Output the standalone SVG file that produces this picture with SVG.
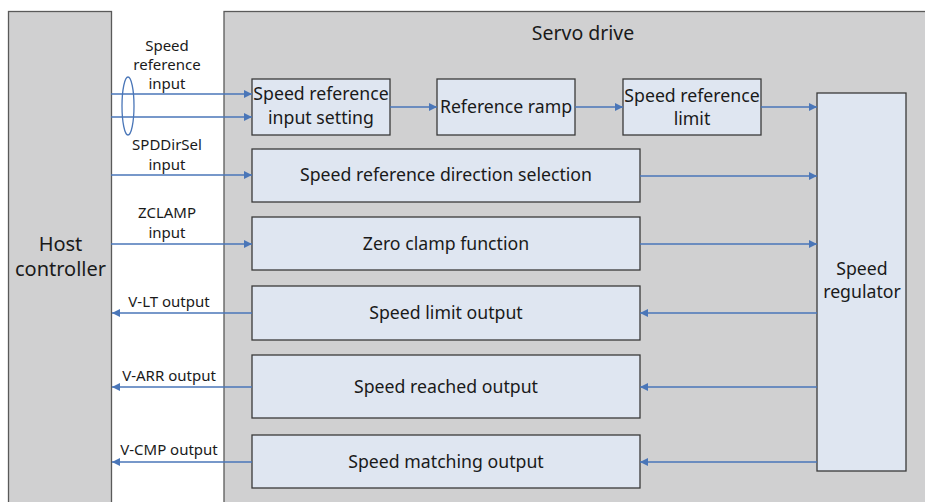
<svg xmlns="http://www.w3.org/2000/svg" width="925" height="502" viewBox="0 0 925 502">
<defs>
<style>
.panel{fill:#d0d0d1;stroke:#5a5a5a;stroke-width:1.3}
.box{fill:#dfe6f1;stroke:#3a3a3a;stroke-width:1.3}
.t{font-family:"Noto Sans","Open Sans","DejaVu Sans",sans-serif;fill:#1a1a1a;text-anchor:middle}
.bt{font-size:17.7px}
.lt{font-size:15px}
.big{font-size:20px}
.ln{stroke:#4a76b8;stroke-width:1.3;fill:none}
</style>
<marker id="ah" viewBox="0 0 10 10" refX="10" refY="5" markerWidth="10" markerHeight="8" markerUnits="userSpaceOnUse" orient="auto">
<path d="M0,0 L10,5 L0,10 z" fill="#4a76b8"/>
</marker>
</defs>
<rect width="925" height="502" fill="#ffffff"/>
<g id="host">
<rect class="panel" x="8.5" y="11.5" width="103" height="500"/>
<text class="t big" x="60.5" y="251">Host</text>
<text class="t big" x="60.5" y="276">controller</text>
</g>
<g id="servo">
<rect class="panel" x="224" y="11.5" width="710" height="500"/>
<text class="t" style="font-size:19.5px" x="583" y="40">Servo drive</text>
</g>
<g id="n_input_setting">
<rect class="box" x="252" y="79" width="138" height="56"/>
<text class="t bt" x="321" y="100">Speed reference</text>
<text class="t bt" x="321" y="124">input setting</text>
</g>
<g id="n_ramp">
<rect class="box" x="437" y="79" width="138" height="56"/>
<text class="t bt" x="506" y="113">Reference ramp</text>
</g>
<g id="n_limit">
<rect class="box" x="623" y="79" width="138" height="56"/>
<text class="t bt" x="692" y="102">Speed reference</text>
<text class="t bt" x="692" y="125">limit</text>
</g>
<g id="n_dir">
<rect class="box" x="252" y="149" width="388" height="53"/>
<text class="t bt" x="446" y="181">Speed reference direction selection</text>
</g>
<g id="n_zclamp">
<rect class="box" x="252" y="217" width="388" height="53"/>
<text class="t bt" x="446" y="250">Zero clamp function</text>
</g>
<g id="n_vlt">
<rect class="box" x="252" y="286" width="388" height="54"/>
<text class="t bt" x="446" y="319">Speed limit output</text>
</g>
<g id="n_varr">
<rect class="box" x="252" y="355" width="388" height="63"/>
<text class="t bt" x="446" y="393">Speed reached output</text>
</g>
<g id="n_vcmp">
<rect class="box" x="252" y="435" width="388" height="53"/>
<text class="t bt" x="446" y="468">Speed matching output</text>
</g>
<g id="n_regulator">
<rect class="box" x="817" y="93" width="89" height="378"/>
<text class="t bt" x="862" y="275">Speed</text>
<text class="t bt" x="862" y="298">regulator</text>
</g>
<g id="connectors">
<line class="ln" x1="111" y1="94" x2="252" y2="94" marker-end="url(#ah)"/>
<line class="ln" x1="111" y1="117" x2="252" y2="117" marker-end="url(#ah)"/>
<ellipse class="ln" cx="128" cy="106" rx="6" ry="29"/>
<line class="ln" x1="390" y1="107" x2="437" y2="107" marker-end="url(#ah)"/>
<line class="ln" x1="575" y1="107" x2="623" y2="107" marker-end="url(#ah)"/>
<line class="ln" x1="761" y1="107" x2="817" y2="107" marker-end="url(#ah)"/>
<line class="ln" x1="111" y1="175" x2="252" y2="175" marker-end="url(#ah)"/>
<line class="ln" x1="111" y1="244" x2="252" y2="244" marker-end="url(#ah)"/>
<line class="ln" x1="640" y1="176" x2="817" y2="176" marker-end="url(#ah)"/>
<line class="ln" x1="640" y1="244" x2="817" y2="244" marker-end="url(#ah)"/>
<line class="ln" x1="817" y1="313" x2="640" y2="313" marker-end="url(#ah)"/>
<line class="ln" x1="817" y1="387" x2="640" y2="387" marker-end="url(#ah)"/>
<line class="ln" x1="817" y1="462" x2="640" y2="462" marker-end="url(#ah)"/>
<line class="ln" x1="252" y1="313" x2="112" y2="313" marker-end="url(#ah)"/>
<line class="ln" x1="252" y1="387" x2="112" y2="387" marker-end="url(#ah)"/>
<line class="ln" x1="252" y1="462" x2="112" y2="462" marker-end="url(#ah)"/>
</g>
<g id="labels">
<text class="t lt" x="167" y="51">Speed</text>
<text class="t lt" x="167" y="70">reference</text>
<text class="t lt" x="167" y="89">input</text>
<text class="t lt" x="167" y="150">SPDDirSel</text>
<text class="t lt" x="167" y="170">input</text>
<text class="t lt" x="167" y="218">ZCLAMP</text>
<text class="t lt" x="167" y="238">input</text>
<text class="t lt" x="169" y="307">V-LT output</text>
<text class="t lt" x="169" y="381">V-ARR output</text>
<text class="t lt" x="169" y="455">V-CMP output</text>
</g>
</svg>
